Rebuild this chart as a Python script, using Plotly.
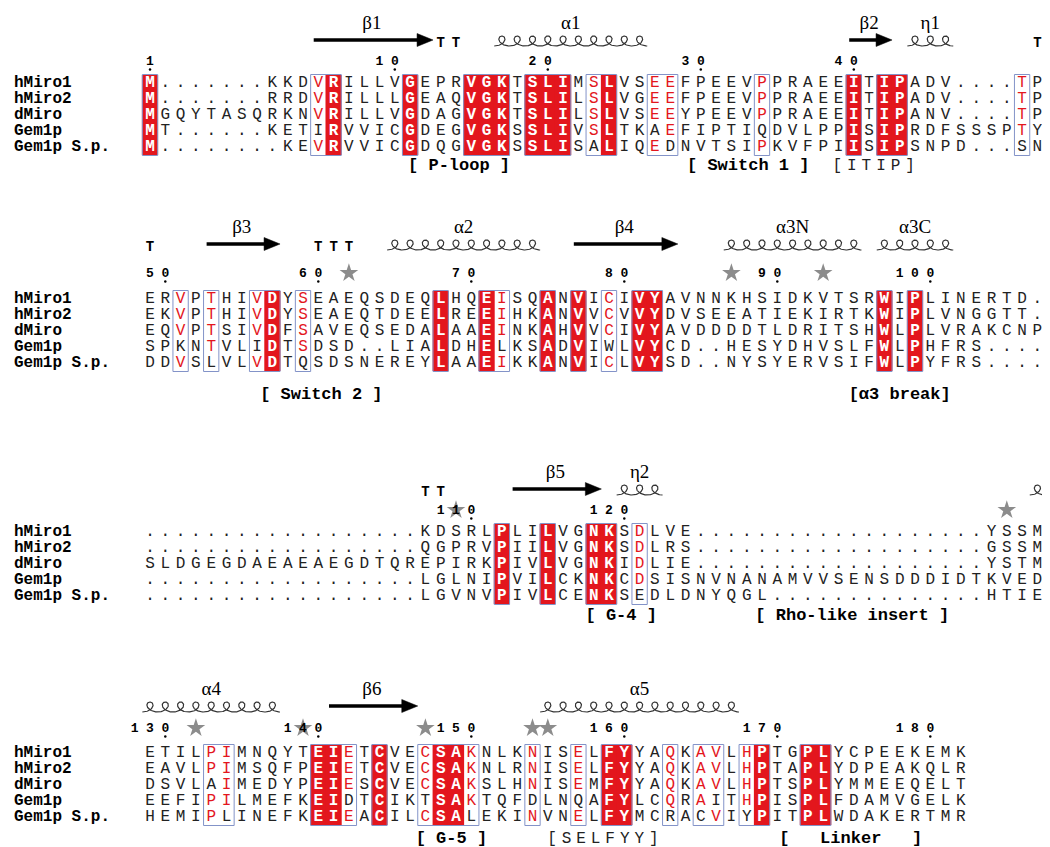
import numpy as np
import plotly.graph_objects as go

# ---------------- data ----------------
NAMES = ["hMiro1", "hMiro2", "dMiro", "Gem1p", "Gem1p S.p."]

BLOCK1 = ["M.......KKDVRILLVGEPRVGKTSLIMSLVSEEFPEEVPPRAEEITIPADV....TP",
          "M.......RRDVRILLLGEAQVGKTSLILSLVGEEFPEEVPPRAEEITIPADV....TP",
          "MGQYTASQRKNVRILLVGDAGVGKTSLILSLVSEEYPEEVPPRAEEITIPANV....TP",
          "MT......KETIRVVICGDEGVGKSSLIVSLTKAEFIPTIQDVLPPISIPRDFSSSPTY",
          "M........KEVRVVICGDQGVGKSSLISALIQEDNVTSIPKVFPIISIPSNPD...SN"]
BLOCK2 = ["ERVPTHIVDYSEAEQSDEQLHQEISQANVICIVYAVNNKHSIDKVTSRWIPLINERTD.",
          "EKVPTHIVDYSEAEQTDEELREEIHKANVVCVVYDVSEEATIEKIRTKWIPLVNGGTT.",
          "EQVPTSIVDFSAVEQSEDALAAEINKAHVVCIVYAVDDDDTLDRITSHWLPLVRAKCNP",
          "SPKNTVLIDTSDSD..LIALDHELKSADVIWLVYCD..HESYDHVSLFWLPHFRS....",
          "DDVSLVLVDTQSDSNEREYLAAEIKKANVICLVYSD..NYSYERVSIFWLPYFRS...."]
BLOCK3 = ["..................KDSRLPLILVGNKSDLVE...................YSSM",
          "..................QGPRVPIILVGNKSDLRS...................GSSM",
          "SLDGEGDAEAEAEGDTQREPIRKPIVLVGNKIDLIE...................YSTM",
          "..................LGLNIPVILCKNKCDSISNVNANAMVVSENSDDDIDTKVED",
          "..................LGVNVPIVLCENKSEDLDNYQGL..............HTIE"]
BLOCK4 = ["ETILPIMNQYTEIETCVECSAKNLKNISELFYYAQKAVLHPTGPLYCPEEKEMK",
          "EAVLPIMSQFPEIETCVECSAKNLRNISELFYYAQKAVLHPTAPLYDPEAKQLR",
          "DSVLAIMEDYPEIESCVECSAKSLHNISEMFYYAQKAVLHPTSPLYMMEEQELT",
          "EEFIPILMEFKEIDTCIKTSAKTQFDLNQAFYLCQRAITHPISPLFDAMVGELK",
          "HEMIPLINEFKEIEACILCSALEKINVNELFYMCRACVIYPITPLWDAKERTMR"]

# framed (conserved / similar) column groups, 1-based alignment columns
FRAMES1 = [(1, 1), (12, 13), (18, 18), (22, 24), (26, 28), (30, 31), (34, 35),
           (41, 41), (47, 47), (49, 50), (58, 58)]
FRAMES2 = [(3, 3), (5, 5), (8, 9), (11, 11), (20, 20), (23, 24), (27, 27),
           (29, 29), (31, 31), (33, 34), (49, 49), (51, 51)]
FRAMES3 = [(24, 24), (27, 27), (30, 31), (33, 33)]
FRAMES4 = [(5, 6), (12, 14), (16, 16), (19, 22), (26, 26), (29, 29), (31, 32),
           (35, 35), (37, 38), (40, 41), (44, 45)]

# secondary structure (label, first residue column, last residue column)
HELICES1 = [("\u03b11", 24, 33), ("\u03b71", 51, 53)]
HELICES2 = [("\u03b12", 17, 26), ("\u03b13N", 39, 47), ("\u03b13C", 49, 53)]
HELICES3 = [("\u03b72", 32, 34), ("", 59, 59)]
HELICES4 = [("\u03b14", 1, 9), ("\u03b15", 27, 39)]
STRANDS1 = [("\u03b21", 12, 19), ("\u03b22", 47, 49)]
STRANDS2 = [("\u03b23", 5, 9), ("\u03b24", 29, 35)]
STRANDS3 = [("\u03b25", 25, 30)]
STRANDS4 = [("\u03b26", 13, 18)]
TURNS1 = [20, 21, 59]
TURNS2 = [1, 12, 13, 14]
TURNS3 = [19, 20]
TURNS4 = []
STARS1 = []
STARS2 = [14, 39, 45]
STARS3 = [21, 57]
STARS4 = [4, 11, 19, 26, 27]

# region annotations: (text, centre column, style)  b = bold label, s = spaced
BRACKETS1 = [("[ P-loop ]", 21.2, "b"), ("[ Switch 1 ]", 40.1, "b"), ("[ITIP]", 48.3, "s")]
BRACKETS2 = [("[ Switch 2 ]", 12.2, "b"), ("[\u03b13 break]", 50.0, "b")]
BRACKETS3 = [("[ G-4 ]", 31.8, "b"), ("[ Rho-like insert ]", 46.9, "b")]
BRACKETS4 = [("[ G-5 ]", 20.7, "b"), ("[SELFYY]", 30.6, "s"), ("[   Linker   ]", 46.8, "b")]

BLOCKS = [
    (BLOCK1, FRAMES1, HELICES1, STRANDS1, TURNS1, STARS1, BRACKETS1),
    (BLOCK2, FRAMES2, HELICES2, STRANDS2, TURNS2, STARS2, BRACKETS2),
    (BLOCK3, FRAMES3, HELICES3, STRANDS3, TURNS3, STARS3, BRACKETS3),
    (BLOCK4, FRAMES4, HELICES4, STRANDS4, TURNS4, STARS4, BRACKETS4),
]

# ---------------- layout constants ----------------
W, H = 1050, 847
COLW = 15.3
COL1_PX = 142
X0 = 1 - COL1_PX / COLW
X1 = X0 + W / COLW
ROW_H = 16
ROW_TOP = [75, 291, 524, 745]
HEAD_SHIFT = [0, 12, 0, 4]     # extra lift of the secondary-structure header
NUM_SHIFT = [0, 4, 0, 3]       # extra lift of the numbering row
BR_SHIFT = [-3, 10, -2, 0]     # shift of the region annotations
RED = "#e3161d"
BLUE = "#8393c8"
MONO = "Liberation Mono"
SERIF = "Liberation Serif"

fig = go.Figure()
shapes = []

txt = {"black": ([], [], []), "red": ([], [], []), "white": ([], [], [])}
name_x, name_y, name_t = [], [], []
num_x, num_y, num_t = [], [], []
dot_x, dot_y = [], []
star_x, star_y = [], []
turn_x, turn_y = [], []
lab_x, lab_y, lab_t = [], [], []
br_x, br_y, br_t = [], [], []
sp_x, sp_y, sp_t = [], [], []
coil_x, coil_y = [], []

res_counter = 0
for b, (seqs, frames, helices, strands, turns, stars, brackets) in enumerate(BLOCKS):
    R = ROW_TOP[b]
    ys = [R + ROW_H * i for i in range(len(seqs))]
    top, bot = ys[0] - ROW_H / 2 - 0.5, ys[-1] + ROW_H / 2 + 0.5
    y_num = R - 21 - NUM_SHIFT[b]
    y_ss = R - 43 - HEAD_SHIFT[b]
    y_lab = R - 59 - HEAD_SHIFT[b]
    y_br = R + ROW_H * (len(seqs) - 1) + 22 + BR_SHIFT[b]

    # names
    for nm, y in zip(NAMES, ys):
        name_x.append(X0 + 6 / COLW)
        name_y.append(y)
        name_t.append(nm)

    ncol = len(seqs[0])
    colour = {}
    for (s, e) in frames:
        for c in range(s, e + 1):
            col = [sq[c - 1] for sq in seqs]
            if len(set(col)) == 1:
                shapes.append(dict(type="rect", xref="x", yref="y", layer="below",
                                   x0=c - 0.53, x1=c + 0.53, y0=top + 0.5, y1=bot - 0.5,
                                   fillcolor=RED, line=dict(width=0)))
                for i in range(len(seqs)):
                    colour[(i, c)] = "white"
            else:
                letters = [ch for ch in col if ch != "."]
                mode = max(set(letters), key=letters.count)
                for i, ch in enumerate(col):
                    if ch == mode:
                        colour[(i, c)] = "red"
        shapes.append(dict(type="rect", xref="x", yref="y", layer="below",
                           x0=s - 0.5, x1=e + 0.5, y0=top, y1=bot,
                           fillcolor="rgba(0,0,0,0)", line=dict(color=BLUE, width=1)))

    for i, sq in enumerate(seqs):
        for c in range(1, ncol + 1):
            k = colour.get((i, c), "black")
            txt[k][0].append(c)
            txt[k][1].append(ys[i])
            txt[k][2].append(sq[c - 1])

    # numbering after the first sequence
    for c in range(1, ncol + 1):
        if seqs[0][c - 1] != ".":
            res_counter += 1
            if res_counter == 1 or res_counter % 10 == 0:
                s = str(res_counter)
                for j, d in enumerate(s):
                    num_x.append(c - (len(s) - 1 - j))
                    num_y.append(y_num)
                    num_t.append(d)
                dot_x.append(c)
                dot_y.append(y_num + 7.5)

    for c in stars:
        star_x.append(c)
        star_y.append(y_num - 1)
    for c in turns:
        turn_x.append(c)
        turn_y.append(y_ss + 3)

    # helices as coils
    for (lab, s, e) in helices:
        n = e - s + 1
        t = np.linspace(-np.pi, 2 * np.pi * n - np.pi, 80 * n)
        coil_x.extend(list(s + t / (2 * np.pi) - 0.42 * np.sin(t)) + [None])
        coil_y.extend(list(y_ss + 1 - 5.0 * np.cos(t)) + [None])
        if lab:
            lab_x.append((s + e) / 2)
            lab_y.append(y_lab)
            lab_t.append(lab)
    # strands as arrows
    head = 16 / COLW
    for (lab, s, e) in strands:
        xs, xe = s - 0.3, e + 0.5
        shapes.append(dict(type="line", xref="x", yref="y", x0=xs, x1=xe - head * 0.8,
                           y0=y_ss, y1=y_ss, line=dict(color="black", width=3.5)))
        shapes.append(dict(type="path", xref="x", yref="y",
                           path=f"M {xe - head},{y_ss - 6.5} L {xe},{y_ss} L {xe - head},{y_ss + 6.5} Z",
                           fillcolor="black", line=dict(color="black", width=0.5)))
        lab_x.append((s + e) / 2)
        lab_y.append(y_lab)
        lab_t.append(lab)

    for (text, cx, style) in brackets:
        if style == "b":
            br_x.append(cx)
            br_y.append(y_br)
            br_t.append(text)
        else:
            pitch = 0.95
            for j, ch in enumerate(text):
                sp_x.append(cx + (j - (len(text) - 1) / 2) * pitch)
                sp_y.append(y_br)
                sp_t.append(ch)


def text_trace(x, y, t, size, color, family=MONO, weight="normal", pos="middle center"):
    return go.Scatter(x=x, y=y, text=t, mode="text", textposition=pos,
                      textfont=dict(family=family, size=size, color=color, weight=weight),
                      hoverinfo="skip", showlegend=False, cliponaxis=False)


fig.add_trace(go.Scatter(x=coil_x, y=coil_y, mode="lines", line=dict(color="#333333", width=1.2),
                         hoverinfo="skip", showlegend=False))
fig.add_trace(text_trace(name_x, name_y, name_t, 16, "black", weight="bold", pos="middle right"))
fig.add_trace(text_trace(*txt["black"], 16, "#222222"))
fig.add_trace(text_trace(*txt["red"], 16, RED))
fig.add_trace(text_trace(*txt["white"], 16, "white", weight="bold"))
fig.add_trace(go.Scatter(x=star_x, y=star_y, mode="markers",
                         marker=dict(symbol="star", size=14, color="#8c8c8c", line=dict(width=0)),
                         hoverinfo="skip", showlegend=False))
fig.add_trace(text_trace(num_x, num_y, num_t, 13, "black", weight="bold"))
fig.add_trace(go.Scatter(x=dot_x, y=dot_y, mode="markers",
                         marker=dict(symbol="circle", size=2.5, color="black"),
                         hoverinfo="skip", showlegend=False))
fig.add_trace(text_trace(turn_x, turn_y, ["T"] * len(turn_x), 14, "black", weight="bold"))
fig.add_trace(text_trace(lab_x, lab_y, lab_t, 19, "black", family=SERIF))
fig.add_trace(text_trace(br_x, br_y, br_t, 17, "black", weight="bold"))
fig.add_trace(text_trace(sp_x, sp_y, sp_t, 16, "#222222"))

fig.update_layout(
    width=W, height=H, margin=dict(l=0, r=0, t=0, b=0),
    paper_bgcolor="white", plot_bgcolor="white",
    xaxis=dict(range=[X0, X1], visible=False, fixedrange=True),
    yaxis=dict(range=[H, 0], visible=False, fixedrange=True),
    shapes=shapes, showlegend=False,
)
fig.write_html("out.html")
